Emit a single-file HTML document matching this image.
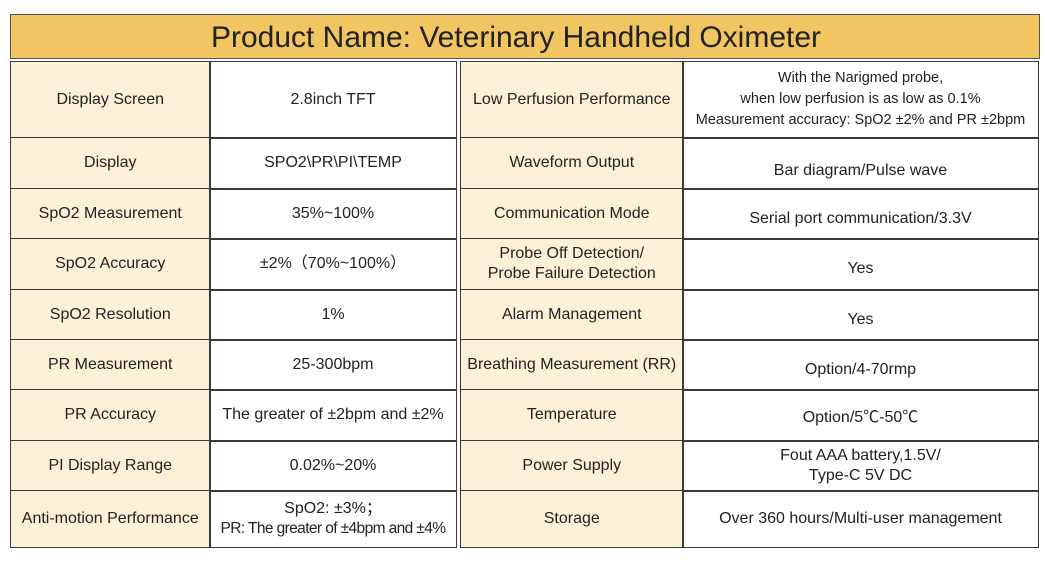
<!DOCTYPE html>
<html><head><meta charset="utf-8"><style>
body{margin:0;width:1050px;height:564px;background:#fff;position:relative;overflow:hidden;font-family:"Liberation Sans","Noto Sans CJK SC",sans-serif;color:#222}
.c{position:absolute;box-sizing:border-box;border:1.5px solid #3a3a3a;display:flex;align-items:center;justify-content:center;text-align:center;font-size:16px;line-height:20px}
.l{background:#faf1d7}
.hd{position:absolute;left:10px;top:14px;width:1030px;height:45px;box-sizing:border-box;background:#f0c562;border:1.5px solid #555}
</style></head><body>
<div class="hd"><svg width="1030" height="45"><text x="200" y="32" textLength="610" lengthAdjust="spacingAndGlyphs" font-family="Liberation Sans" font-size="30" fill="#222">Product Name: Veterinary Handheld Oximeter</text></svg></div>
<div id="t"></div>
<script>
var ys=[61,137,188,238,289,339,389,440,490,546];
var L=[["Display Screen","2.8inch TFT"],["Display","SPO2\\PR\\PI\\TEMP"],["SpO2 Measurement","35%~100%"],["SpO2 Accuracy","±2%（70%~100%）"],["SpO2 Resolution","1%"],["PR Measurement","25-300bpm"],["PR Accuracy","The greater of ±2bpm and ±2%"],["PI Display Range","0.02%~20%"],["Anti-motion Performance","SpO2: ±3%；<br><span style='letter-spacing:-0.6px;font-size:15.5px'>PR: The greater of ±4bpm and ±4%</span>"]];
var R=[["Low Perfusion Performance","<span style='font-size:14.5px;line-height:21px'>With the Narigmed probe,<br>when low perfusion is as low as 0.1%<br>Measurement accuracy: SpO2 ±2% and PR ±2bpm</span>"],["Waveform Output","<span style='position:relative;top:8px'>Bar diagram/Pulse wave</span>"],["Communication Mode","<span style='position:relative;top:5px'>Serial port communication/3.3V</span>"],["Probe Off Detection/<br>Probe Failure Detection","<span style='position:relative;top:5px'>Yes</span>"],["Alarm Management","<span style='position:relative;top:5px'>Yes</span>"],["Breathing Measurement (RR)","<span style='position:relative;top:5px'>Option/4-70rmp</span>"],["Temperature","<span style='position:relative;top:3px'>Option/5℃-50℃</span>"],["Power Supply","Fout AAA battery,1.5V/<br>Type-C 5V DC"],["Storage","Over 360 hours/Multi-user management"]];
var h="";
function cell(x,y,w,hh,cls,txt){h+='<div class="c '+cls+'" style="left:'+x+'px;top:'+y+'px;width:'+w+'px;height:'+hh+'px"><div>'+txt+'</div></div>';}
for(var i=0;i<9;i++){var y=ys[i],hh=ys[i+1]-y+1.5;
cell(10,y,200.5,hh,"l",L[i][0]);cell(209,y,248,hh,"",L[i][1]);
cell(460,y,223.5,hh,"l",R[i][0]);cell(682,y,357,hh,"",R[i][1]);}
document.getElementById("t").innerHTML=h;
</script>
</body></html>
